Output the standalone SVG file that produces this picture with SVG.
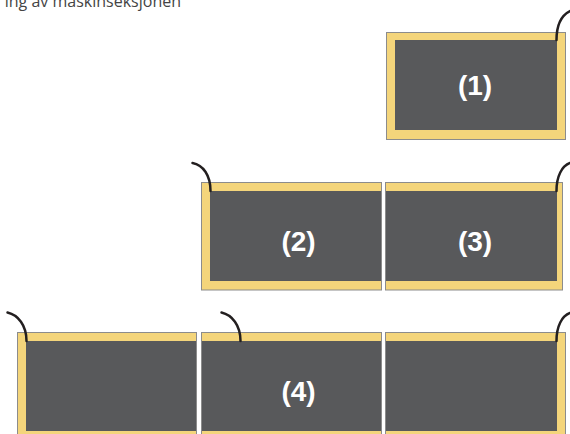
<svg xmlns="http://www.w3.org/2000/svg" width="570" height="434" viewBox="0 0 570 434">
<style>
.frame{fill:#F4D57B;stroke:#8C8C8C;stroke-width:1}
.panel{fill:#58595B}
.lbl{font-family:"Liberation Sans",Arial,sans-serif;font-weight:bold;font-size:28px;fill:#FFFFFF;text-anchor:middle}
.cap{font-family:"Open Sans","Noto Sans",sans-serif;font-size:16px;fill:#444444}
.wire{fill:none;stroke:#231F20;stroke-width:2.5;stroke-linecap:round}
</style>
<rect width="570" height="434" fill="#FFFFFF"/>
<text class="cap" x="181" y="7" text-anchor="end">ing av maskinseksjonen</text>
<g id="node1">
<rect class="frame" x="386.5" y="32.5" width="179" height="107"/>
<rect class="panel" x="395" y="40" width="162" height="90"/>
<text class="lbl" x="475" y="95">(1)</text>
</g>
<g id="node2">
<rect class="frame" x="201.5" y="182.5" width="180" height="107.5"/>
<rect class="panel" x="210" y="191" width="171" height="90"/>
<text class="lbl" x="298.5" y="250.5">(2)</text>
</g>
<g id="node3">
<rect class="frame" x="385.5" y="182.5" width="177" height="107.5"/>
<rect class="panel" x="386" y="191" width="171" height="90"/>
<text class="lbl" x="475" y="250.5">(3)</text>
</g>
<g id="node5">
<rect class="frame" x="17.5" y="332.5" width="179" height="110"/>
<rect class="panel" x="26" y="341" width="170" height="90"/>
</g>
<g id="node4">
<rect class="frame" x="201.5" y="332.5" width="180" height="110"/>
<rect class="panel" x="202" y="341" width="179" height="90"/>
<text class="lbl" x="298.5" y="401">(4)</text>
</g>
<g id="node6">
<rect class="frame" x="385.5" y="332.5" width="180" height="110"/>
<rect class="panel" x="386" y="341" width="171" height="90"/>
</g>
<g id="connectors">
<path class="wire" d="M556.5,40 C556.5,25 562,15 570,11"/>
<path class="wire" d="M210.5,191 C210.5,175 203,165 192.5,163"/>
<path class="wire" d="M556.5,191 C556.5,176 562,166 570,163"/>
<path class="wire" d="M26.5,341 C26.5,325 18,315 7.5,312.5"/>
<path class="wire" d="M240.5,341 C240.5,325 232,315 221.5,312.5"/>
<path class="wire" d="M556.5,341 C556.5,326 562,316 570,313"/>
</g>
</svg>
